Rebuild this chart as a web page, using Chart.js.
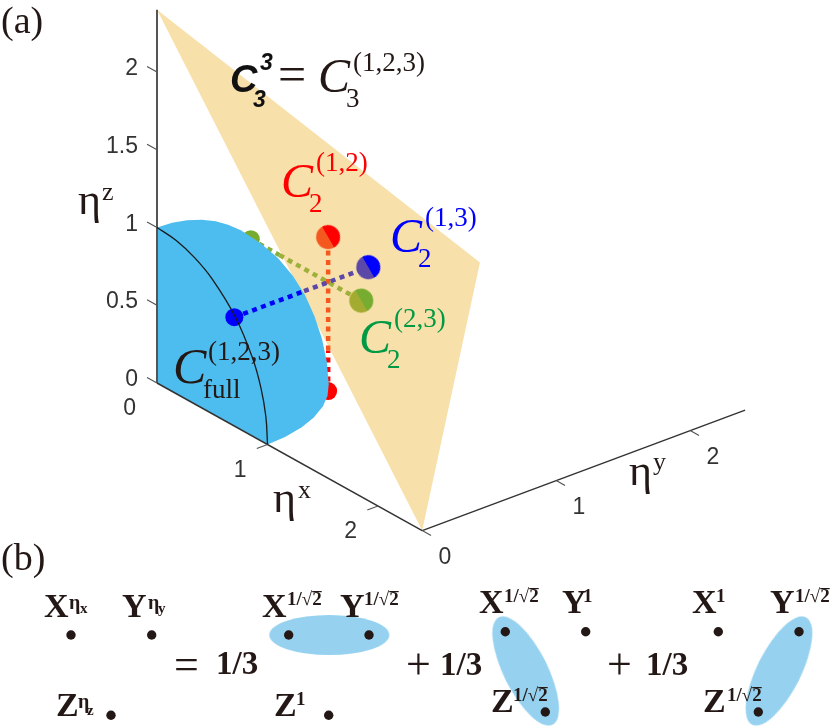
<!DOCTYPE html>
<html>
<head>
<meta charset="utf-8">
<style>
  html, body { margin: 0; background: #fff; }
  canvas { display: block; }
</style>
<script src="https://cdn.jsdelivr.net/npm/chart.js@4"></script>
</head>
<body>
<canvas id="chart" width="830" height="727"></canvas>
<script>
// ---- data, in (etaX, etaY, etaZ) ----
const axisEnd = 2.4;
const zTicks = [0, 0.5, 1, 1.5, 2];
const zTickLabels = ['0', '0.5', '1', '1.5', '2'];
const xTicks = [0, 1, 2];
const xTickLabels = ['0', '1', '2'];
const yTicks = [0, 1, 2];
const yTickLabels = ['0', '1', '2'];

const planeCorners = [[0, 0, 2.4], [2.4, 0, 0], [0, 2.41, 0]];

// outline of the blue sphere patch
const capOutline = [
  [0, 0, 1], [0, 0.113, 0.994], [0, 0.225, 0.974], [0, 0.334, 0.943], [0, 0.438, 0.899],
  [0, 0.53, 0.848], [0, 0.625, 0.781], [0.097, 0.691, 0.717], [0.191, 0.745, 0.64],
  [0.283, 0.78, 0.551], [0.369, 0.8, 0.454], [0.449, 0.805, 0.348], [0.522, 0.8, 0.235],
  [0.584, 0.785, 0.119], [0.636, 0.757, 0], [0.743, 0.66, 0], [0.829, 0.555, 0],
  [0.906, 0.423, 0], [0.956, 0.292, 0], [0.99, 0.139, 0], [1, 0, 0], [0, 0, 0]
];
const capArc = [
  [0, 0, 1], [0.174, 0, 0.985], [0.342, 0, 0.94], [0.5, 0, 0.866], [0.707, 0, 0.707],
  [0.866, 0, 0.5], [0.94, 0, 0.342], [0.985, 0, 0.174], [1, 0, 0]
];

const pointC12 = [0.7, 0.7, 0.99];
const pointC13 = [0.7, 1, 0.7];
const pointC23 = [1, 0.7, 0.7];
const footC12 = [0.7, 0.7, 0];
const footC13 = [0.7, 0, 0.7];
const footC23 = [0, 0.7, 0.7];
// where each dotted line crosses the edge of the plane
const crossC12 = [0.7, 0.7, 0.26];
const crossC13 = [0.7, 0.52, 0.7];
const crossC23 = [0.26, 0.7, 0.7];

// panel (b), in plot units
const latticeX = [71, 151.7, 111, 288.7, 369, 328.7, 505.3, 585.7, 545.3, 718.3, 799, 758.3];
const latticeY = [635, 635, 715.3, 635, 635, 715.3, 631.7, 631.7, 712, 631.7, 631.7, 712];
const bondX = [329.3, 525.7, 779];
const bondY = [635, 671, 671];

// ---- projection of the 3D box onto the plot ----
const origin = [157, 383];
const unitX = [110.5, 61.5];
const unitY = [134, -50];
const unitZ = [0, -155.5];

function project(p) {
  return {
    x: origin[0] + p[0] * unitX[0] + p[1] * unitY[0] + p[2] * unitZ[0],
    y: origin[1] + p[0] * unitX[1] + p[1] * unitY[1] + p[2] * unitZ[1],
  };
}

// ---- colours ----
const INK = '#231815';
const AXIS = '#555555';
const TAN = '#f8e0aa';
const SKY = '#4dbcee';
const BOND = '#96d2f0';
const RED = '#ff0000', ORANGE = '#f4581f';
const BLUE = '#0000ff', PURPLE = '#5b48a8';
const LEAF = '#76ac30', OLIVE = '#a3ac30';

// ---- point styles ----
function halfDot(r, top, bottom) {
  const c = document.createElement('canvas');
  c.width = c.height = 2 * r + 2;
  const g = c.getContext('2d');
  g.fillStyle = top;
  g.beginPath(); g.arc(r + 1, r + 1, r, Math.PI, 0); g.fill();
  g.fillStyle = bottom;
  g.beginPath(); g.arc(r + 1, r + 1, r, 0, Math.PI); g.fill();
  return c;
}

function ovalPatch(a, b, color) {
  const c = document.createElement('canvas');
  c.width = 2 * a + 2;
  c.height = 2 * b + 2;
  const g = c.getContext('2d');
  g.fillStyle = color;
  g.beginPath(); g.ellipse(a + 1, b + 1, a, b, 0, 0, 2 * Math.PI); g.fill();
  return c;
}

// ---- dataset helpers ----
function line(pts, color, width, dash) {
  return {
    data: pts.map(project), showLine: true, borderColor: color, borderWidth: width,
    borderDash: dash || [], pointRadius: 0, borderCapStyle: 'butt',
  };
}

function area(pts, color) {
  return {
    data: pts.map(project), showLine: true, borderWidth: 0, borderColor: color,
    backgroundColor: color, fill: 'shape', pointRadius: 0,
  };
}

function dot(p, color, r) {
  return { data: [project(p)], pointRadius: r, pointBackgroundColor: color, pointBorderWidth: 0 };
}

function splitDot(p, top, bottom) {
  return { data: [project(p)], pointRadius: 12, pointStyle: halfDot(12, top, bottom), pointRotation: 60 };
}

function oval(i, rotation) {
  const style = ovalPatch(60, i === 0 ? 20 : 22, BOND);
  return { data: [{ x: bondX[i], y: bondY[i] }], pointRadius: 20, pointStyle: style, pointRotation: rotation };
}

const DOTS = [5, 4.5];
const layers = [
  // panel (b) patches
  oval(0, 0), oval(1, 63.4), oval(2, -63.4),
  {
    data: latticeX.map((x, i) => ({ x, y: latticeY[i] })),
    pointRadius: 4.7, pointBackgroundColor: INK, pointBorderWidth: 0,
  },
  // back of the box
  area(planeCorners, TAN),
  dot(footC12, RED, 9),
  dot(footC23, LEAF, 9),
  line([footC12, crossC12], RED, 4.5, DOTS),
  line([crossC12, pointC12], ORANGE, 4.5, DOTS),
  line([footC23, crossC23], '#85b03a', 4.5, DOTS),
  line([crossC23, pointC23], '#9cb03a', 4.5, DOTS),
  area(capOutline, SKY),
  // axes
  line([[0, 0, 0], [0, 0, axisEnd]], AXIS, 2),
  line([[0, 0, 0], [axisEnd, 0, 0]], '#333333', 1.5),
  line([[axisEnd, 0, 0], [axisEnd, axisEnd + 0.01, 0]], '#333333', 1.5),
  ...zTicks.map(t => line([[-0.09, 0, t], [0, 0, t]], AXIS, 1.2)),
  ...xTicks.slice(1).map(t => line([[t, -0.08, 0], [t, 0, 0]], AXIS, 1.2)),
  ...yTicks.map(t => line([[axisEnd + 0.08, t, 0], [axisEnd, t, 0]], AXIS, 1.2)),
  // lines and points in front
  line([footC13, crossC13], BLUE, 4.5, DOTS),
  line([crossC13, pointC13], PURPLE, 4.5, DOTS),
  splitDot(pointC12, RED, ORANGE),
  splitDot(pointC13, BLUE, PURPLE),
  splitDot(pointC23, LEAF, OLIVE),
  dot(footC13, BLUE, 9),
  { ...line(capArc, '#1a1a1a', 1.3), tension: 0.4 },
];
// the first dataset in the list is painted first
layers.forEach((d, i) => { d.order = layers.length - i; d.clip = false; });

// ---- text ----
const SERIF = '"Liberation Serif"';
const SANS = '"Liberation Sans"';
const tickFont = '23px ' + SANS;
const tickColor = '#333333';
const GREEN = '#009944';
const rootTwo = '1/\u221A2';
const eta = '\u03B7';

function mathLabel(x, y, sup, sub, color, c) {
  return [
    ['C', x, y, `italic ${c.size}px ${SERIF}`, color],
    [sup, x + c.supX, y + c.supY, `${c.small}px ${SERIF}`, color],
    [sub, x + c.subX, y + c.subY, `${c.small}px ${SERIF}`, color],
  ];
}
const mathC = { size: 48, small: 27, supX: 35, supY: -26, subX: 28, subY: 15 };
const mathTop = { ...mathC, supY: -21 };

const captions = [
  ['(a)', 1, 33, `38px ${SERIF}`, INK],
  ['(b)', 1, 570, `38px ${SERIF}`, INK],
  // axis names
  [eta, 78, 214, `44px ${SERIF}`, INK], ['z', 102, 200, `26px ${SERIF}`, INK],
  [eta, 273, 512, `44px ${SERIF}`, INK], ['x', 298, 498, `26px ${SERIF}`, INK],
  [eta, 629, 485, `44px ${SERIF}`, INK], ['y', 653, 470, `26px ${SERIF}`, INK],
  // equation at the top
  ['C', 230, 92, `italic bold 38px ${SANS}`, '#111111'],
  ['3', 260, 70, `italic bold 23px ${SANS}`, '#111111'],
  ['3', 253, 107, `italic bold 23px ${SANS}`, '#111111'],
  ['=', 278, 91, `50px ${SERIF}`, INK],
  ...mathLabel(318, 92, '(1,2,3)', '3', INK, mathTop),
  ...mathLabel(281, 197, '(1,2)', '2', RED, mathC),
  ...mathLabel(390, 252, '(1,3)', '2', BLUE, mathC),
  ...mathLabel(359, 353, '(2,3)', '2', GREEN, mathC),
  ['C', 173, 383, `italic 50px ${SERIF}`, INK],
  ['(1,2,3)', 208, 360, `27px ${SERIF}`, INK],
  ['full', 203, 398, `27px ${SERIF}`, INK],
];

const bold = s => `bold ${s}px ${SERIF}`;
function spin(letter, x, y, power, powerX, powerY, size) {
  return [[letter, x, y, bold(34), INK], [power, powerX, powerY, bold(size || 19), INK]];
}
const equation = [
  ...spin('X', 44, 617, eta, 69, 609, 20), ['x', 80, 613, bold(15), INK],
  ...spin('Y', 122, 617, eta, 148, 609, 20), ['y', 158, 613, bold(15), INK],
  ...spin('Z', 56, 716, eta, 78, 708, 20), ['z', 87, 715, bold(15), INK],
  ['=', 174, 679, `44px ${SERIF}`, INK],
  ['1/3', 216, 674, bold(33), INK],
  ...spin('X', 262, 617, rootTwo, 287, 605),
  ...spin('Y', 340, 617, rootTwo, 364, 605),
  ...spin('Z', 274, 716, '1', 296, 705),
  ['+', 406, 679, `44px ${SERIF}`, INK],
  ['1/3', 440, 675, bold(33), INK],
  ...spin('X', 479, 613, rootTwo, 504, 602),
  ...spin('Y', 562, 613, '1', 583, 602),
  ...spin('Z', 491, 712, rootTwo, 513, 701),
  ['+', 607, 679, `44px ${SERIF}`, INK],
  ['1/3', 646, 675, bold(33), INK],
  ...spin('X', 692, 613, '1', 716, 602),
  ...spin('Y', 770, 613, rootTwo, 795, 602),
  ...spin('Z', 703, 712, rootTwo, 727, 701),
];

const textPlugin = {
  id: 'figureText',
  afterDatasetsDraw(chart) {
    const ctx = chart.ctx;
    const sx = chart.scales.x, sy = chart.scales.y;
    ctx.save();
    ctx.textBaseline = 'alphabetic';

    // tick labels hang off the projected tick positions
    ctx.font = tickFont;
    ctx.fillStyle = tickColor;
    ctx.textAlign = 'right';
    const put = (label, p, dx, dy) => {
      const at = project(p);
      ctx.fillText(label, sx.getPixelForValue(at.x) + dx, sy.getPixelForValue(at.y) + dy);
    };
    zTicks.forEach((t, i) => put(zTickLabels[i], [0, 0, t], -19, 3));
    xTicks.forEach((t, i) => put(xTickLabels[i], [t, 0, 0], -21, 32));
    yTicks.forEach((t, i) => put(yTickLabels[i], [axisEnd, t, 0], 29, 33));

    ctx.textAlign = 'left';
    [...captions, ...equation].forEach(([s, x, y, font, color]) => {
      ctx.font = font;
      ctx.fillStyle = color;
      const px = sx.getPixelForValue(x), py = sy.getPixelForValue(y);
      ctx.fillText(s, px, py);
      if (s === rootTwo) {
        // bar of the root over the 2
        const w = ctx.measureText(s).width;
        ctx.fillRect(px + w - 9.5, py - 14, 9.5, 1.2);
      }
    });
    ctx.restore();
  },
};

new Chart(document.getElementById('chart'), {
  type: 'scatter',
  data: { datasets: layers },
  options: {
    responsive: false,
    animation: false,
    layout: { padding: 0, autoPadding: false },
    plugins: { legend: { display: false }, tooltip: { enabled: false } },
    scales: {
      x: { type: 'linear', min: 0, max: 830, display: false },
      y: { type: 'linear', min: 0, max: 727, reverse: true, display: false },
    },
  },
  plugins: [textPlugin],
});
</script>
</body>
</html>
